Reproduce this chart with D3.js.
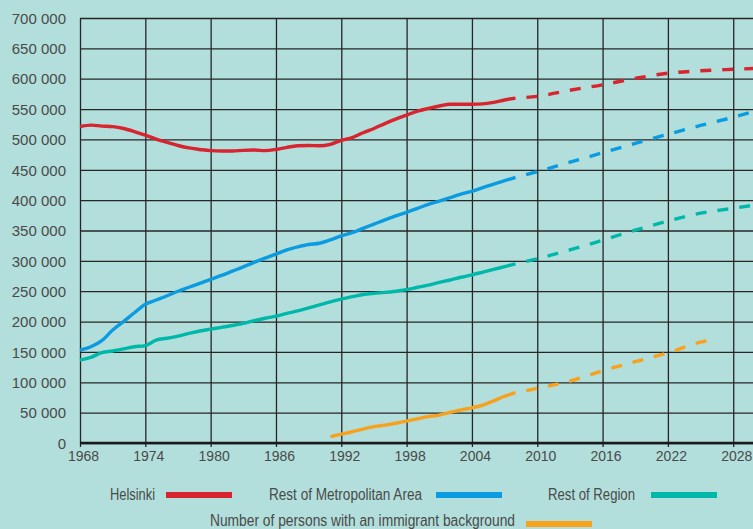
<!DOCTYPE html>
<html>
<head>
<meta charset="utf-8">
<script src="https://cdn.jsdelivr.net/npm/d3@7"></script>
<style>
  html, body { margin: 0; padding: 0; background: #b2dfdb; }
  svg { display: block; }
</style>
</head>
<body>
<div id="chart"></div>
<script>
// ---- data ----
const seriesNames = [
  "Helsinki",
  "Rest of Metropolitan Area",
  "Rest of Region",
  "Number of persons with an immigrant background"
];
const seriesColors = ["#d7242f", "#0b9be0", "#00b8a9", "#f8a11e"];

const xTicks = [1968, 1974, 1980, 1986, 1992, 1998, 2004, 2010, 2016, 2022, 2028];
const yTicks = [0, 50000, 100000, 150000, 200000, 250000, 300000, 350000, 400000, 450000, 500000, 550000, 600000, 650000, 700000];

// recorded, yearly 1968-2008
const histYears = d3.range(1968, 2009);
const helsinkiHist = [521000, 523500, 522000, 521000, 518000, 513000, 507000, 500500, 495000, 490000,
  486000, 483500, 481500, 481000, 481000, 482000, 482500, 481500, 483500, 487000,
  489500, 490000, 489500, 492000, 498500, 503000, 511000, 518000, 526000, 533500,
  540000, 546500, 551000, 555000, 558000, 558000, 558000, 558500, 561000, 565000, 568000];
const metroHist = [153000, 158500, 168500, 186000, 200000, 214500, 228500, 235500, 242500, 250000,
  256500, 263000, 269500, 276000, 283000, 290000, 297500, 304500, 311000, 318000,
  323000, 327000, 329000, 334500, 341000, 346500, 353500, 360500, 367500, 374000,
  380000, 386500, 393000, 398500, 404000, 410000, 414500, 420500, 426500, 432000, 437500];
const regionHist = [136500, 141000, 149000, 151500, 155000, 158500, 160500, 169500, 172500, 176000,
  180500, 184500, 187500, 190500, 193500, 197000, 201500, 205500, 209000, 213500,
  217500, 222500, 227500, 232500, 237000, 241000, 244500, 246500, 248000, 250000,
  252500, 256500, 260000, 264500, 268500, 273000, 277000, 281500, 286000, 290500, 295000];
const immigrantYears = d3.range(1991, 2009);
const immigrantHist = [10500, 14500, 18500, 23000, 27000, 29500, 32500, 36000, 40000, 43500,
  46000, 50500, 54500, 58000, 62500, 69500, 77000, 83000];

// projections (dashed)
const projYears = [2008, 2010, 2013, 2016, 2019, 2022, 2025, 2028, 2030];
const helsinkiProj = [568000, 571000, 581000, 590000, 600500, 609000, 613000, 615500, 617000];
const metroProj = [437500, 447000, 462500, 478000, 493500, 508500, 523000, 536500, 546500];
const regionProj = [295000, 303500, 318000, 334000, 350500, 365500, 378500, 386500, 392000];
const immigrantProjYears = [2008, 2010, 2013, 2016, 2019, 2022, 2025, 2026];
const immigrantProj = [83000, 90000, 102000, 119000, 134000, 148500, 166000, 170000];

// ---- layout ----
const W = 753, H = 529;
const margin = { top: 18, right: -2, bottom: 86, left: 80 };
const plotW = W - margin.left - margin.right;
const plotH = H - margin.top - margin.bottom;

const svg = d3.select("#chart").append("svg")
  .attr("width", W)
  .attr("height", H);

svg.append("rect")
  .attr("width", W)
  .attr("height", H)
  .attr("fill", "#b2dfdb");

const g = svg.append("g")
  .attr("transform", `translate(${margin.left},${margin.top})`);

const x = d3.scaleLinear().domain([1968, 2030]).range([0, plotW]);
const y = d3.scaleLinear().domain([0, 700000]).range([plotH, 0]);

const numFont = "'Liberation Sans', Arial, sans-serif";
const textCol = "#4a4a4a";
const gridCol = "#262626";

// horizontal grid + y labels
const yAxis = g.append("g")
  .call(d3.axisLeft(y)
    .tickValues(yTicks)
    .tickSize(-plotW)
    .tickFormat(d => d3.format(",")(d).replace(/,/g, " ")));
yAxis.select(".domain").remove();
yAxis.selectAll("line")
  .attr("stroke", gridCol)
  .attr("stroke-width", 1.3);
yAxis.selectAll("text")
  .attr("x", -14)
  .attr("dy", "0.35em")
  .attr("fill", textCol)
  .style("font-family", numFont)
  .style("font-size", "15px");

// vertical grid + x labels
const xAxis = g.append("g")
  .attr("transform", `translate(0,${plotH})`)
  .call(d3.axisBottom(x)
    .tickValues(xTicks)
    .tickSize(-plotH)
    .tickFormat(d3.format("d")));
xAxis.select(".domain").remove();
xAxis.selectAll("line")
  .attr("y1", 4)
  .attr("y2", -plotH)
  .attr("stroke", gridCol)
  .attr("stroke-width", 1.3);
xAxis.selectAll("text")
  .attr("y", 18)
  .attr("dy", 0)
  .attr("x", 3)
  .attr("fill", textCol)
  .style("font-family", numFont)
  .style("font-size", "14px");

// baseline
g.append("line")
  .attr("x1", 0)
  .attr("x2", plotW)
  .attr("y1", y(0))
  .attr("y2", y(0))
  .attr("stroke", "#1a1a1a")
  .attr("stroke-width", 2.4);

// ---- lines ----
const line = d3.line()
  .x(d => x(d[0]))
  .y(d => y(d[1]))
  .curve(d3.curveMonotoneX);

const series = [
  { hist: d3.zip(histYears, helsinkiHist), proj: d3.zip(projYears, helsinkiProj) },
  { hist: d3.zip(histYears, metroHist), proj: d3.zip(projYears, metroProj) },
  { hist: d3.zip(histYears, regionHist), proj: d3.zip(projYears, regionProj) },
  { hist: d3.zip(immigrantYears, immigrantHist), proj: d3.zip(immigrantProjYears, immigrantProj) }
];

series.forEach((s, i) => {
  g.append("path")
    .datum(s.hist)
    .attr("fill", "none")
    .attr("stroke", seriesColors[i])
    .attr("stroke-width", 3.4)
    .attr("d", line);

  g.append("path")
    .datum(s.proj)
    .attr("fill", "none")
    .attr("stroke", seriesColors[i])
    .attr("stroke-width", 3.4)
    .attr("stroke-dasharray", "11,11")
    .attr("stroke-dashoffset", 11)
    .attr("d", line);
});

// ---- legend ----
// no narrow font installed, so fit a regular one to the original widths
const legendPos = [
  { tx: 110, w: 45, sx: 166, base: 500, sy: 492 },
  { tx: 269, w: 153, sx: 436, base: 500, sy: 492 },
  { tx: 548, w: 87, sx: 651, base: 500, sy: 492 },
  { tx: 210, w: 305, sx: 526, base: 526, sy: 521 }
];

const legend = svg.append("g");
seriesNames.forEach((name, i) => {
  const p = legendPos[i];
  legend.append("text")
    .attr("x", p.tx)
    .attr("y", p.base)
    .attr("textLength", p.w)
    .attr("lengthAdjust", "spacingAndGlyphs")
    .attr("fill", textCol)
    .style("font-family", numFont)
    .style("font-size", "16px")
    .text(name);
  legend.append("rect")
    .attr("x", p.sx)
    .attr("y", p.sy)
    .attr("width", 66)
    .attr("height", 6)
    .attr("fill", seriesColors[i]);
});
</script>
</body>
</html>
